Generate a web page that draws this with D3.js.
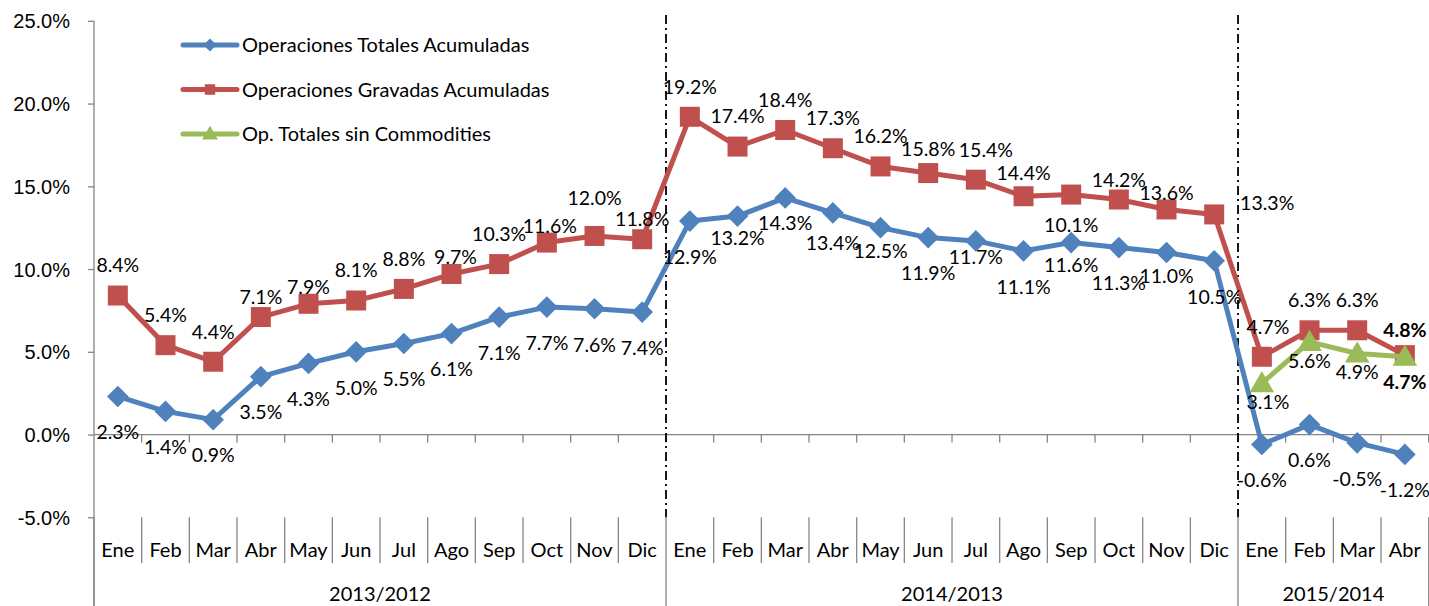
<!DOCTYPE html>
<html>
<head>
<meta charset="utf-8">
<script src="https://cdn.jsdelivr.net/npm/d3@7"></script>
<style>
  body { margin: 0; background: #fff; }
  svg { display: block; font-family: Lato, "Open Sans", sans-serif; }
</style>
</head>
<body>
<div id="chart"></div>
<script>
// ---------------- data ----------------
const groups = ["2013/2012", "2014/2013", "2015/2014"];
const groupMonths = [
  ["Ene", "Feb", "Mar", "Abr", "May", "Jun", "Jul", "Ago", "Sep", "Oct", "Nov", "Dic"],
  ["Ene", "Feb", "Mar", "Abr", "May", "Jun", "Jul", "Ago", "Sep", "Oct", "Nov", "Dic"],
  ["Ene", "Feb", "Mar", "Abr"]
];
const totales = [2.3, 1.4, 0.9, 3.5, 4.3, 5.0, 5.5, 6.1, 7.1, 7.7, 7.6, 7.4,
                 12.9, 13.2, 14.3, 13.4, 12.5, 11.9, 11.7, 11.1, 11.6, 11.3, 11.0, 10.5,
                 -0.6, 0.6, -0.5, -1.2];
const gravadas = [8.4, 5.4, 4.4, 7.1, 7.9, 8.1, 8.8, 9.7, 10.3, 11.6, 12.0, 11.8,
                  19.2, 17.4, 18.4, 17.3, 16.2, 15.8, 15.4, 14.4, 14.5, 14.2, 13.6, 13.3,
                  4.7, 6.3, 6.3, 4.8];
const sinCommodities = [null, null, null, null, null, null, null, null, null, null, null, null,
                        null, null, null, null, null, null, null, null, null, null, null, null,
                        3.1, 5.6, 4.9, 4.7];
const yTicks = [-5, 0, 5, 10, 15, 20, 25];
// labels that differ from the plain value
const gravadasHidden = [20];          // Sep 2014 has no label
const totalesExtra = [{ i: 20, text: "10.1%" }];
const boldLast = true;                // last point of red and green in bold

// ---------------- layout ----------------
const W = 1429, H = 606;
const x0 = 94, x1 = 1428.7;
const colors = { blue: "#4F81BD", red: "#C0504D", green: "#9BBB59" };
const axisGray = "#868686";

// label nudges (dx, dy) relative to the default placement
const redNudge = { 3: [0, 10], 4: [0, 13], 7: [4, 13], 9: [3, 14], 10: [0, -8], 11: [0, 10],
                   17: [0, 6], 18: [10, 0], 19: [0, 7], 21: [0, 11], 22: [0, 14], 23: [53, 19],
                   24: [6, 0], 27: [0, 5] };
const blueNudge = { 13: [0, -14], 14: [0, -11], 15: [0, -6], 16: [0, -13], 18: [0, -20],
                    20: [0, -13], 22: [0, -12] };
const greenNudge = { 24: [6, 0], 27: [0, 6] };

const keys = [];
const monthOf = [];
groups.forEach((g, gi) => groupMonths[gi].forEach(m => { keys.push(g + "-" + m); monthOf.push(m); }));

const svg = d3.select("#chart").append("svg")
  .attr("width", W).attr("height", H);
svg.append("rect").attr("width", W).attr("height", H).attr("fill", "#fff");

const x = d3.scaleBand().domain(keys).range([x0, x1]);
const y = d3.scaleLinear().domain([-5, 25]).range([517.3, 20.8]);
const cx = i => x(keys[i]) + x.bandwidth() / 2;

// ---------------- axes ----------------
const yAxis = d3.axisLeft(y).tickValues(yTicks)
  .tickFormat(d => d.toFixed(1) + "%").tickSize(6).tickPadding(18);
const gy = svg.append("g").attr("transform", `translate(${x0},0)`).call(yAxis);
gy.select(".domain").remove();
gy.selectAll(".tick line").attr("stroke", axisGray).attr("stroke-width", 1.3);
gy.selectAll(".tick text").attr("fill", "#000").style("font-size", "20px").attr("dy", "0.35em");
svg.append("line").attr("x1", x0).attr("x2", x0).attr("y1", y(25)).attr("y2", H)
  .attr("stroke", axisGray).attr("stroke-width", 1.3);

// zero line with category ticks
svg.append("line").attr("x1", x0).attr("x2", W).attr("y1", y(0)).attr("y2", y(0))
  .attr("stroke", axisGray).attr("stroke-width", 1.3);
const bounds = d3.range(1, keys.length + 1).map(i => x0 + i * x.bandwidth());
svg.append("g").selectAll("line").data(bounds).enter().append("line")
  .attr("x1", d => d).attr("x2", d => d).attr("y1", y(0)).attr("y2", y(0) + 8)
  .attr("stroke", axisGray).attr("stroke-width", 1.3);

// bottom category area
const groupStarts = [0];
groupMonths.forEach((m, gi) => groupStarts.push(groupStarts[gi] + m.length));
svg.append("g").selectAll("line").data(d3.range(0, keys.length + 1)).enter().append("line")
  .attr("x1", i => x0 + i * x.bandwidth()).attr("x2", i => x0 + i * x.bandwidth())
  .attr("y1", y(-5)).attr("y2", i => groupStarts.includes(i) ? H : 563)
  .attr("stroke", axisGray).attr("stroke-width", 1.3);

svg.append("g").selectAll("text").data(keys).enter().append("text")
  .attr("x", (d, i) => cx(i)).attr("y", 557)
  .attr("text-anchor", "middle").style("font-size", "20px")
  .text((d, i) => monthOf[i]);

svg.append("g").selectAll("text").data(groups).enter().append("text")
  .attr("x", (d, gi) => (x0 + groupStarts[gi] * x.bandwidth() + x0 + groupStarts[gi + 1] * x.bandwidth()) / 2)
  .attr("y", 601).attr("text-anchor", "middle").style("font-size", "20px")
  .text(d => d);

// dash-dot separators between periods
svg.append("g").selectAll("line").data([groupStarts[1], groupStarts[2]]).enter().append("line")
  .attr("x1", i => x0 + i * x.bandwidth()).attr("x2", i => x0 + i * x.bandwidth())
  .attr("y1", 15).attr("y2", y(-5))
  .attr("stroke", "#000").attr("stroke-width", 1.8).attr("stroke-dasharray", "9,4,2,4");

// ---------------- series ----------------
const series = [
  { name: "Operaciones Totales Acumuladas", values: totales, color: colors.blue, shape: "diamond" },
  { name: "Operaciones Gravadas Acumuladas", values: gravadas, color: colors.red, shape: "square" },
  { name: "Op. Totales sin Commodities", values: sinCommodities, color: colors.green, shape: "triangle" }
];
const symbolFor = (shape, size) => {
  if (shape === "diamond") return d3.symbol().type(d3.symbolDiamond2).size(size)();
  if (shape === "square") return d3.symbol().type(d3.symbolSquare).size(size)();
  return d3.symbol().type(d3.symbolTriangle).size(size)();
};
const markerSize = { diamond: 300, square: 400, triangle: 260 };

const line = d3.line().defined(d => d.v != null).x(d => cx(d.i)).y(d => y(d.v));

series.forEach(s => {
  const pts = s.values.map((v, i) => ({ v, i }));
  const g = svg.append("g");
  g.append("path").datum(pts).attr("d", line)
    .attr("fill", "none").attr("stroke", s.color).attr("stroke-width", 5)
    .attr("stroke-linejoin", "round");
  g.selectAll("path.m").data(pts.filter(d => d.v != null)).enter().append("path")
    .attr("class", "m")
    .attr("d", symbolFor(s.shape, markerSize[s.shape]))
    .attr("transform", d => `translate(${cx(d.i)},${y(d.v) + (s.shape === "triangle" ? 2 : 0)})`)
    .attr("fill", s.color);
});

// ---------------- data labels ----------------
const fmt = v => v.toFixed(1) + "%";
const labels = svg.append("g").style("font-size", "19.5px").attr("text-anchor", "middle");
function addLabels(values, dyDefault, nudges, hidden, lastBold) {
  values.forEach((v, i) => {
    if (v == null || hidden.includes(i)) return;
    const n = nudges[i] || [0, 0];
    labels.append("text")
      .attr("x", cx(i) + n[0]).attr("y", y(v) + dyDefault + n[1])
      .attr("dy", "0.35em")
      .style("font-weight", lastBold && i === values.length - 1 ? "bold" : "normal")
      .text(fmt(v));
  });
}
addLabels(totales, 36, blueNudge, [], false);
addLabels(gravadas, -30, redNudge, gravadasHidden, boldLast);
addLabels(sinCommodities, 19, greenNudge, [], boldLast);
totalesExtra.forEach(e => {
  labels.append("text").attr("x", cx(e.i)).attr("y", y(totales[e.i]) - 17)
    .attr("dy", "0.35em").text(e.text);
});

// ---------------- legend ----------------
const legend = svg.append("g").attr("transform", "translate(183,45)");
series.forEach((s, k) => {
  const row = legend.append("g").attr("transform", `translate(0,${k * 44.5})`);
  row.append("line").attr("x1", 0).attr("x2", 54).attr("stroke", s.color)
    .attr("stroke-width", 5).attr("stroke-linecap", "round");
  row.append("path").attr("d", symbolFor(s.shape, 110))
    .attr("transform", `translate(27,${s.shape === "triangle" ? 1 : 0})`).attr("fill", s.color);
  row.append("text").attr("x", 59).attr("dy", "0.35em").style("font-size", "20px").text(s.name);
});
</script>
</body>
</html>
